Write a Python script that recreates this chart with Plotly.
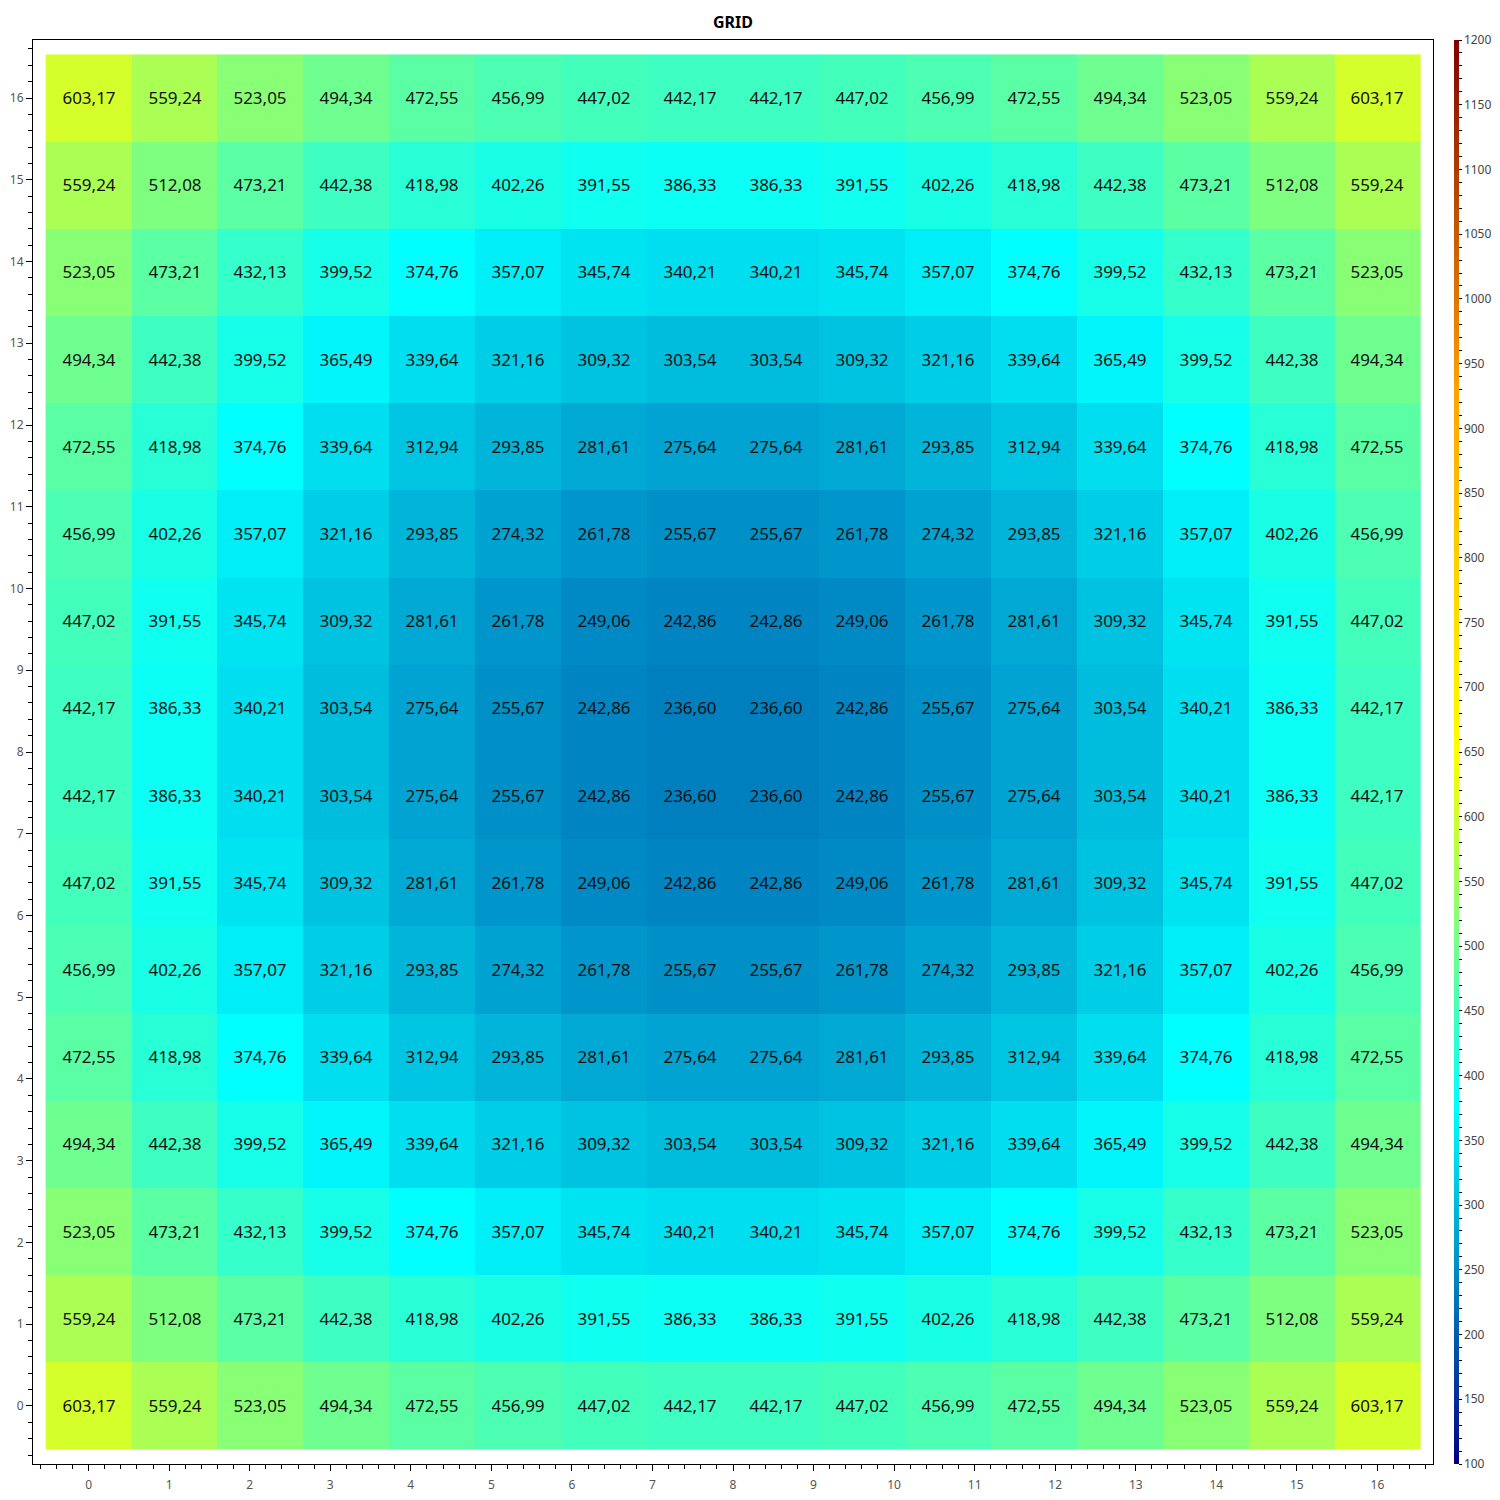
import plotly.graph_objects as go
import numpy as np

# ---- data ----
z_rows = [
    [603.17, 559.24, 523.05, 494.34, 472.55, 456.99, 447.02, 442.17, 442.17, 447.02, 456.99, 472.55, 494.34, 523.05, 559.24, 603.17],
    [559.24, 512.08, 473.21, 442.38, 418.98, 402.26, 391.55, 386.33, 386.33, 391.55, 402.26, 418.98, 442.38, 473.21, 512.08, 559.24],
    [523.05, 473.21, 432.13, 399.52, 374.76, 357.07, 345.74, 340.21, 340.21, 345.74, 357.07, 374.76, 399.52, 432.13, 473.21, 523.05],
    [494.34, 442.38, 399.52, 365.49, 339.64, 321.16, 309.32, 303.54, 303.54, 309.32, 321.16, 339.64, 365.49, 399.52, 442.38, 494.34],
    [472.55, 418.98, 374.76, 339.64, 312.94, 293.85, 281.61, 275.64, 275.64, 281.61, 293.85, 312.94, 339.64, 374.76, 418.98, 472.55],
    [456.99, 402.26, 357.07, 321.16, 293.85, 274.32, 261.78, 255.67, 255.67, 261.78, 274.32, 293.85, 321.16, 357.07, 402.26, 456.99],
    [447.02, 391.55, 345.74, 309.32, 281.61, 261.78, 249.06, 242.86, 242.86, 249.06, 261.78, 281.61, 309.32, 345.74, 391.55, 447.02],
    [442.17, 386.33, 340.21, 303.54, 275.64, 255.67, 242.86, 236.60, 236.60, 242.86, 255.67, 275.64, 303.54, 340.21, 386.33, 442.17],
    [442.17, 386.33, 340.21, 303.54, 275.64, 255.67, 242.86, 236.60, 236.60, 242.86, 255.67, 275.64, 303.54, 340.21, 386.33, 442.17],
    [447.02, 391.55, 345.74, 309.32, 281.61, 261.78, 249.06, 242.86, 242.86, 249.06, 261.78, 281.61, 309.32, 345.74, 391.55, 447.02],
    [456.99, 402.26, 357.07, 321.16, 293.85, 274.32, 261.78, 255.67, 255.67, 261.78, 274.32, 293.85, 321.16, 357.07, 402.26, 456.99],
    [472.55, 418.98, 374.76, 339.64, 312.94, 293.85, 281.61, 275.64, 275.64, 281.61, 293.85, 312.94, 339.64, 374.76, 418.98, 472.55],
    [494.34, 442.38, 399.52, 365.49, 339.64, 321.16, 309.32, 303.54, 303.54, 309.32, 321.16, 339.64, 365.49, 399.52, 442.38, 494.34],
    [523.05, 473.21, 432.13, 399.52, 374.76, 357.07, 345.74, 340.21, 340.21, 345.74, 357.07, 374.76, 399.52, 432.13, 473.21, 523.05],
    [559.24, 512.08, 473.21, 442.38, 418.98, 402.26, 391.55, 386.33, 386.33, 391.55, 402.26, 418.98, 442.38, 473.21, 512.08, 559.24],
    [603.17, 559.24, 523.05, 494.34, 472.55, 456.99, 447.02, 442.17, 442.17, 447.02, 456.99, 472.55, 494.34, 523.05, 559.24, 603.17],
]
x_ticks = list(range(0, 17))
y_ticks = list(range(0, 17))
z_min, z_max = 100, 1200
cbar_major = list(range(100, 1201, 50))
cbar_all = list(range(100, 1201, 10))

n = len(z_rows)
x_pos = np.linspace(0, 16, n)
y_pos = np.linspace(0, 16, n)
text = [[f"{v:.2f}".replace(".", ",") for v in row] for row in z_rows]

colorscale = [
    [0.0, "#000080"],
    [0.25, "#00ffff"],
    [0.5, "#ffff00"],
    [0.75, "#ffa500"],
    [1.0, "#800000"],
]

fig = go.Figure(go.Heatmap(
    x=x_pos, y=y_pos, z=z_rows, text=text, texttemplate="%{text}",
    textfont=dict(family="Noto Sans", size=17, color="#111111"),
    colorscale=colorscale, zmin=z_min, zmax=z_max,
    colorbar=dict(
        thickness=5, len=1, lenmode="fraction", y=0.5, yanchor="middle",
        x=1.015, xanchor="left", xpad=0, ypad=0, outlinewidth=0,
        tickvals=cbar_all,
        ticktext=[str(v) if v in cbar_major else "" for v in cbar_all],
        ticks="outside", ticklen=3, tickcolor="#000", tickwidth=1,
        tickfont=dict(family="Noto Sans", size=12, color="#444"),
    ),
))

axis_common = dict(
    showgrid=False, zeroline=False, showline=True, linecolor="#000", linewidth=1,
    mirror=True, ticks="outside", ticklen=6, tickcolor="#000", tickwidth=1,
    tickfont=dict(family="Noto Sans", size=12, color="#555"),
    minor=dict(ticks="outside", ticklen=4, dtick=0.2, tickcolor="#000", tickwidth=1),
)
fig.update_xaxes(range=[-0.69, 16.69], tickvals=x_ticks, ticklabelstandoff=4, **axis_common)
fig.update_yaxes(range=[-0.71, 16.71], tickvals=y_ticks, **axis_common)

fig.update_layout(
    width=1500, height=1500,
    margin=dict(l=25, r=75, t=32, b=44, autoexpand=False),
    paper_bgcolor="white", plot_bgcolor="white",
    title=dict(text="<b>GRID</b>", x=0.5, xref="paper", xanchor="center",
               y=1 - 14 / 1500, yref="container", yanchor="middle",
               font=dict(family="Noto Sans", size=16, color="#000")),
)

fig.write_html("out.html")
